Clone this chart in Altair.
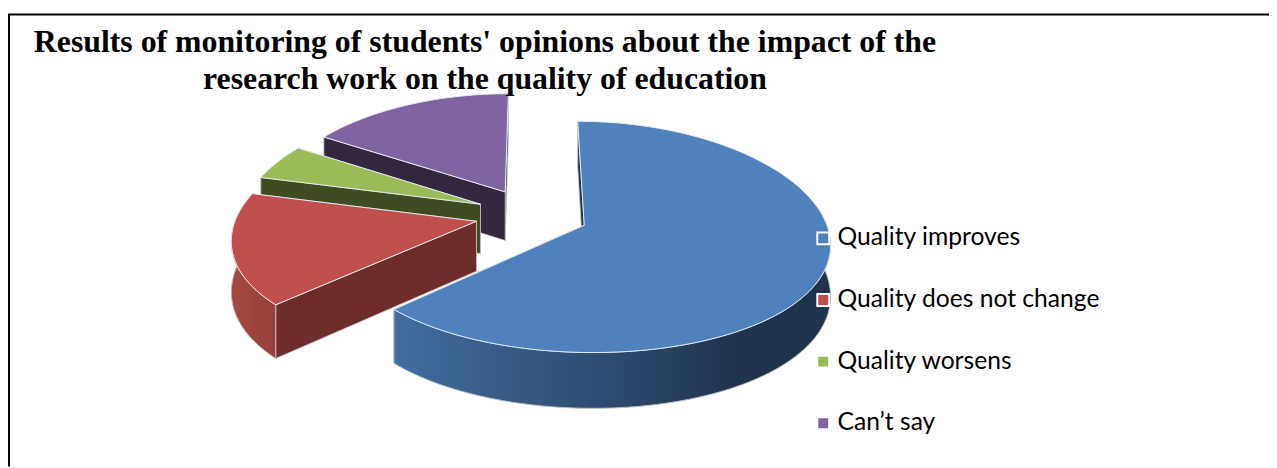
import math
import altair as alt

title_lines = ["Results of monitoring of students' opinions about the impact of the",
               "research work on the quality of education"]
categories = ["Quality improves", "Quality does not change", "Quality worsens", "Can’t say"]
shares = [63, 16, 5, 16]
top_colors = ["#4F81BD", "#C0504D", "#9BBB59", "#8064A2"]
side_colors = ["#1F334D", "#6E2D2B", "#3F4C22", "#33273F"]
arc_stops = [
    [("#416D9F", 0.0), ("#2D4A70", 0.5), ("#1F334D", 0.78), ("#1F334D", 1.0)],
    [("#A5473F", 0.0), ("#96403D", 1.0)],
    [("#5E7536", 0.0), ("#5E7536", 1.0)],
    [("#4C3C62", 0.0), ("#4C3C62", 1.0)],
]

W, H_CHART = 1269, 460
CX, CY, R, S, KX, KY, DEPTH, EXPLODE = 527, 206.5, 241, 113, 0.14, 0.1, 50, 0.236


def project(u, v, down=0):
    return [CX + R * u / (1 - KX * v), CY + (S * v + down) / (1 - KY * v)]


def feature(ring, **props):
    ring = ring + [ring[0]]
    return {"type": "Feature", "properties": props,
            "geometry": {"type": "Polygon", "coordinates": [ring]}}


slices = []
acc = 0
for share in shares:
    a0, a1 = acc * 3.6, (acc + share) * 3.6
    mid = math.radians((a0 + a1) / 2)
    slices.append((a0, a1, EXPLODE * math.sin(mid), -EXPLODE * math.cos(mid)))
    acc += share


def rim(s, a0, a1, down=0):
    n = max(2, int(abs(a1 - a0)) + 1)
    out = []
    for i in range(n + 1):
        t = math.radians(a0 + (a1 - a0) * i / n)
        out.append(project(s[2] + math.sin(t), s[3] - math.cos(t), down))
    return out


proj = alt.Projection(type="identity", scale=1, translate=[0, 0])
layers = []


def poly_layer(f, **mark):
    return alt.Chart(alt.Data(values=[f])).mark_geoshape(**mark).project(**proj.to_dict())


for i in [3, 2, 1, 0]:
    s = slices[i]
    apex = [project(s[2], s[3]), project(s[2], s[3], DEPTH)]
    # the wall further back is painted first so the nearer one hides it
    for ang in sorted((s[0], s[1]), key=lambda a: -math.cos(math.radians(a))):
        e0, e1 = rim(s, ang, ang + 1e-6)[0], rim(s, ang, ang + 1e-6, DEPTH)[0]
        layers.append(poly_layer(feature([apex[0], e0, e1, apex[1]]),
                                 fill=side_colors[i], stroke="#C9C9C9", strokeWidth=0.8))
    lo, hi = max(s[0], 80), min(s[1], 280)
    if hi > lo:
        ring = rim(s, lo, hi) + rim(s, hi, lo, DEPTH)
        grad = alt.Gradient(gradient="linear", x1=0, x2=1, y1=0, y2=0,
                            stops=[alt.GradientStop(color=c, offset=o) for c, o in arc_stops[i]])
        layers.append(poly_layer(feature(ring), fill=grad, stroke="#BDBDBD", strokeWidth=1))

tops = []
for i in [3, 2, 1, 0]:
    s = slices[i]
    ring = [project(s[2], s[3])] + rim(s, s[0], s[1])
    tops.append(feature(ring, category=categories[i]))

layers.append(
    alt.Chart(alt.Data(values=tops)).mark_geoshape(stroke="#E6ECF3", strokeWidth=1, opacity=1)
    .project(**proj.to_dict())
    .encode(color=alt.Color(
        "properties.category:N",
        scale=alt.Scale(domain=categories, range=top_colors),
        legend=alt.Legend(
            orient="none", legendX=808, legendY=218, title=None, zindex=1,
            symbolType="square", symbolSize=144, symbolStrokeColor="white",
            symbolStrokeWidth=2, symbolOpacity=1, labelFont="Lato", labelFontSize=24.8,
            labelColor="#000000", labelOffset=2, rowPadding=36, labelLimit=400,
        ),
    ))
)

layers.append(alt.Chart(alt.Data(values=[{}])).mark_rule(color="black", strokeWidth=2).encode(
    x=alt.value(0), x2=alt.value(W), y=alt.value(5)))
layers.append(alt.Chart(alt.Data(values=[{}])).mark_rule(color="black", strokeWidth=2).encode(
    x=alt.value(1), y=alt.value(5), y2=alt.value(H_CHART)))

chart = alt.layer(*layers).properties(
    width=W, height=H_CHART, padding=0, autosize=alt.AutoSizeParams(type="none"),
    title=alt.TitleParams(text=title_lines, anchor="start", align="center", dx=481, dy=87,
                          font="Liberation Serif", fontWeight="bold", fontSize=32,
                          lineHeight=37, color="black", offset=0),
).configure_view(stroke=None)

chart.save("out.html", embed_options={"renderer": "svg", "actions": False})
